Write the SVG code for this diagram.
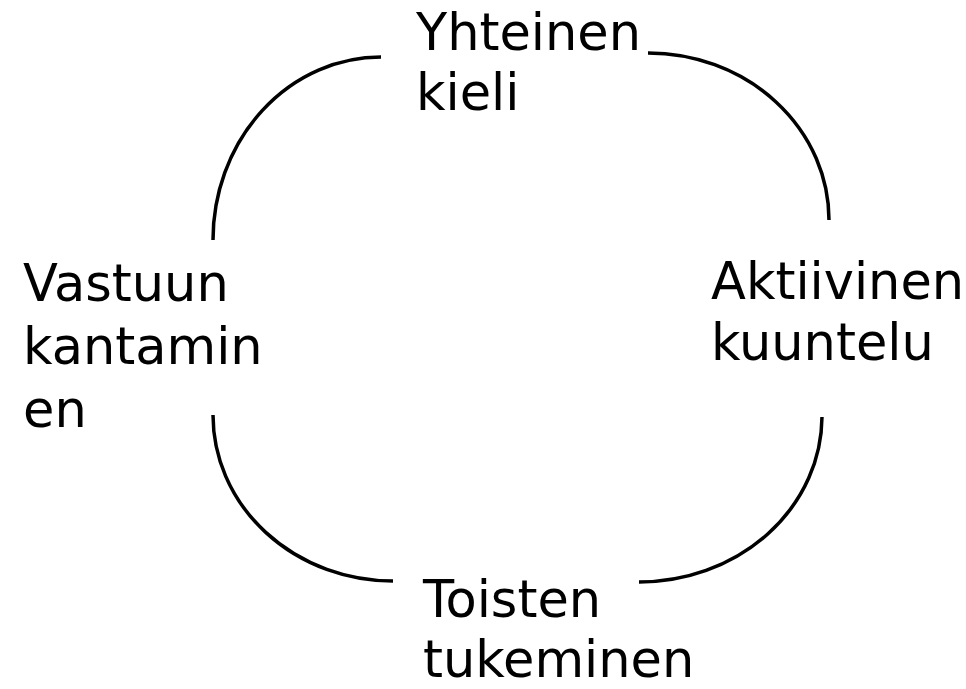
<svg xmlns="http://www.w3.org/2000/svg" width="966" height="689" viewBox="0 0 966 689">
<style>
.t{font-family:"DejaVu Sans","Liberation Sans",sans-serif;font-size:51px;fill:#000}
.c{fill:none;stroke:#000;stroke-width:3.5}
</style>
<rect width="966" height="689" fill="#fff"/>
<g id="connectors">
<path class="c" d="M213,240 A168,183 0 0 1 381,57"/>
<path class="c" d="M648,53 A181,167 0 0 1 829,220"/>
<path class="c" d="M822,417 A183,166 0 0 1 639,582"/>
<path class="c" d="M393,581 A180,166 0 0 1 213,415"/>
</g>
<g id="yhteinen-kieli"><text class="t" x="416" y="50">Yhteinen</text><text class="t" x="416" y="110">kieli</text></g>
<g id="aktiivinen-kuuntelu"><text class="t" x="711" y="299">Aktiivinen</text><text class="t" x="711" y="360">kuuntelu</text></g>
<g id="toisten-tukeminen"><text class="t" x="423" y="617">Toisten</text><text class="t" x="423" y="677">tukeminen</text></g>
<g id="vastuun-kantaminen"><text class="t" x="23" y="301">Vastuun</text><text class="t" x="23" y="364">kantamin</text><text class="t" x="23" y="427">en</text></g>
</svg>
